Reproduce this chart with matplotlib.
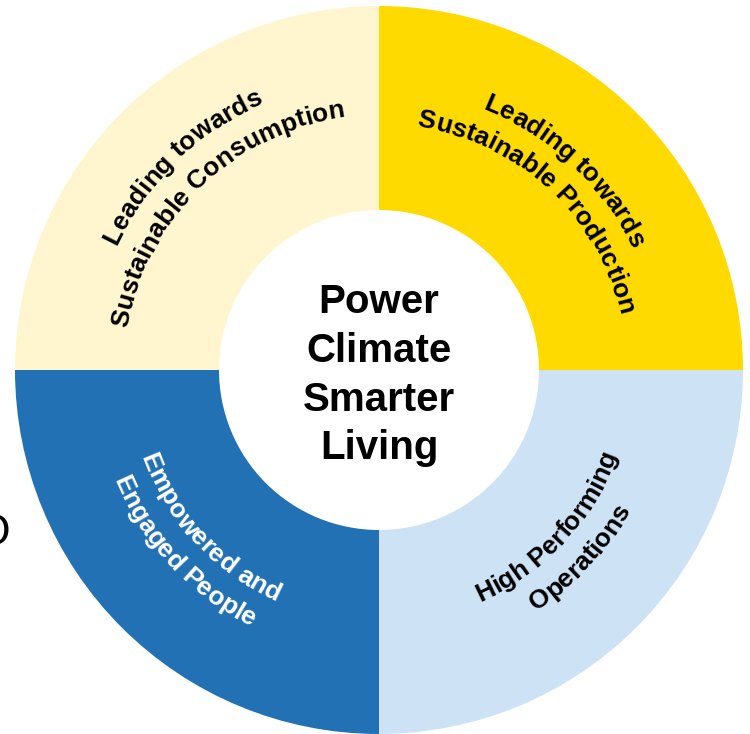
import numpy as np
import matplotlib
matplotlib.use("Agg")
import matplotlib.pyplot as plt
from matplotlib.font_manager import FontProperties, findfont
from matplotlib.ft2font import FT2Font

# --- Figure / geometry (pixels, y pointing up) ---
FIG_W, FIG_H = 750, 734
DPI = 100
CENTER = (379, 364)
OUTER_R = 364
INNER_R = 160
FONT_FAMILY = "Liberation Sans"
ARC_FONT_SIZE = 19
CENTER_FONT_SIZE = 29
CAP_RATIO = 0.716            # cap height / em for Arial-like fonts

# --- Data ---
SEGMENT_SHARES = [1, 1, 1, 1]
SEGMENT_COLORS = ["#FFDA00", "#FFF6CF", "#2271B5", "#CDE3F5"]
SEGMENT_LINES = [
    ["Leading towards", "Sustainable Production"],
    ["Leading towards", "Sustainable Consumption"],
    ["Empowered and", "Engaged People"],
    ["High Performing", "Operations"],
]
TEXT_COLORS = ["black", "black", "white", "black"]
CENTER_LINES = ["Power", "Climate", "Smarter", "Living"]

# --- Label placement (mid angle in degrees, radius for each line) ---
LABEL_ANGLES = [47, 134, 223, 317]
LABEL_RADII = [(290, 256), (300, 265), (244, 278), (243, 278)]
LABEL_OUTWARD = [True, True, False, False]   # top halves read clockwise


def char_advances(text, size_pt, weight="bold"):
    """Advance width of every character, in pixels."""
    fp = FontProperties(family=FONT_FAMILY, weight=weight)
    font = FT2Font(findfont(fp))
    font.set_size(size_pt, DPI)
    return np.array([font.load_char(ord(c)).linearHoriAdvance / 65536 for c in text])


def arc_text(ax, text, angle_deg, radius, size, color, outward):
    widths = char_advances(text, size)
    cap = CAP_RATIO * size * DPI / 72
    base_r = radius - cap / 2 if outward else radius + cap / 2
    span = widths.sum() / base_r
    mids = (np.cumsum(widths) - widths / 2) / base_r
    theta0 = np.deg2rad(angle_deg)
    if outward:
        thetas = theta0 + span / 2 - mids
        rots = np.rad2deg(thetas) - 90
    else:
        thetas = theta0 - span / 2 + mids
        rots = np.rad2deg(thetas) + 90
    for c, th, rot in zip(text, thetas, rots):
        if c == " ":
            continue
        ax.text(CENTER[0] + base_r * np.cos(th), CENTER[1] + base_r * np.sin(th), c,
                rotation=rot, rotation_mode="anchor", ha="center", va="baseline",
                fontsize=size, fontweight="bold", family=FONT_FAMILY, color=color)


def main():
    fig = plt.figure(figsize=(FIG_W / DPI, FIG_H / DPI), dpi=DPI)
    ax = fig.add_axes([0, 0, 1, 1])

    ax.pie(SEGMENT_SHARES, colors=SEGMENT_COLORS, startangle=0, counterclock=True,
           radius=OUTER_R, center=CENTER,
           wedgeprops=dict(width=OUTER_R - INNER_R, linewidth=0))
    ax.set_xlim(0, FIG_W)
    ax.set_ylim(0, FIG_H)
    ax.set_aspect("equal")
    ax.axis("off")

    # Curved labels in each quadrant
    for lines, ang, radii, col, outward in zip(SEGMENT_LINES, LABEL_ANGLES, LABEL_RADII,
                                               TEXT_COLORS, LABEL_OUTWARD):
        for line, r in zip(lines, radii):
            arc_text(ax, line, ang, r, ARC_FONT_SIZE, col, outward)

    # Centre text
    cap = CAP_RATIO * CENTER_FONT_SIZE * DPI / 72
    mid_y = CENTER[1] - 2
    for i, line in enumerate(CENTER_LINES):
        y = mid_y - (i - 1.5) * 48.7 - cap / 2
        ax.text(CENTER[0], y, line, ha="center", va="baseline",
                fontsize=CENTER_FONT_SIZE, fontweight="bold", family=FONT_FAMILY)

    # cropped slide text at the left edge (also cut off in the source picture)
    ax.text(10, FIG_H - 545, "O", ha="right", va="baseline", fontsize=32, family=FONT_FAMILY)

    fig.savefig("out.png", dpi=DPI)


if __name__ == "__main__":
    main()
